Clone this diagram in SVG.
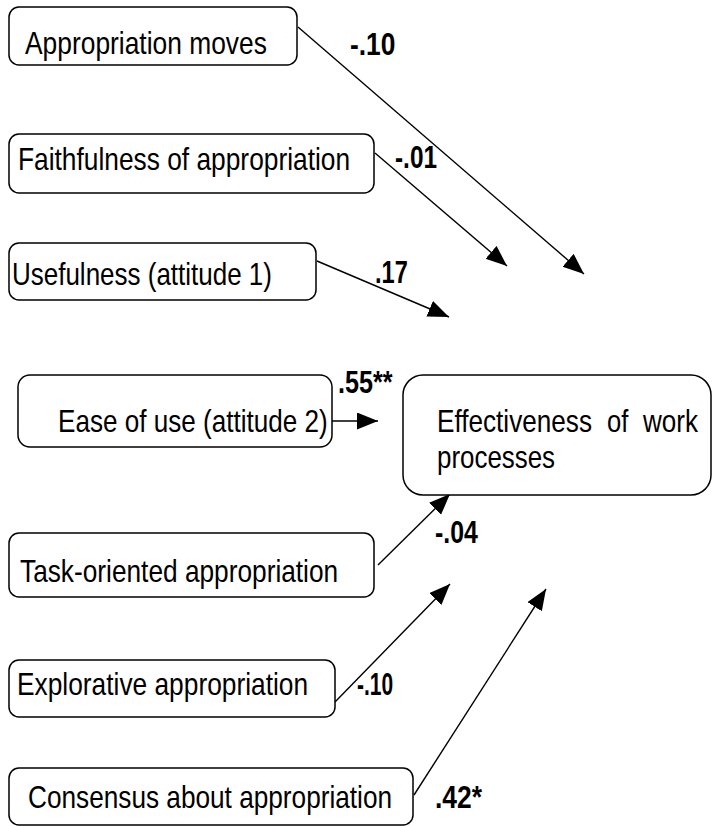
<svg xmlns="http://www.w3.org/2000/svg" width="713" height="826" viewBox="0 0 713 826">
  <style>
    .box { fill: #fff; stroke: #000; stroke-width: 1.5; }
    .lbl { font-family: "Liberation Sans", Arial, sans-serif; font-size: 32px; fill: #000; }
    .coef { font-family: "Liberation Sans", Arial, sans-serif; font-size: 31px; font-weight: bold; fill: #000; }
    .edge { stroke: #000; stroke-width: 1.4; fill: none; marker-end: url(#arrow); }
  </style>
  <defs>
    <marker id="arrow" markerUnits="userSpaceOnUse" markerWidth="23" markerHeight="19" refX="21" refY="8.5" orient="auto">
      <path d="M0,0 L21,8.5 L0,17 z" fill="#000"/>
    </marker>
  </defs>
  <rect width="713" height="826" fill="#fff"/>

  <g id="connectors">
    <line class="edge" x1="298" y1="27" x2="584" y2="274"/>
    <line class="edge" x1="375" y1="153" x2="507" y2="266"/>
    <line class="edge" x1="317" y1="261" x2="449" y2="317"/>
    <line class="edge" x1="332" y1="421" x2="378" y2="421"/>
    <line class="edge" x1="378" y1="565" x2="450" y2="494"/>
    <line class="edge" x1="335" y1="702" x2="450" y2="584"/>
    <line class="edge" x1="414" y1="795" x2="546" y2="589"/>
  </g>

  <!-- text is drawn at full size and narrowed horizontally to a condensed face -->
  <g id="node-appropriation-moves">
    <rect class="box" x="9" y="7" width="288" height="58" rx="10"/>
    <text class="lbl" transform="translate(25,54) scale(0.82,1)" textLength="295" lengthAdjust="spacingAndGlyphs">Appropriation moves</text>
  </g>
  <g id="node-faithfulness">
    <rect class="box" x="9" y="134" width="365" height="59" rx="10"/>
    <text class="lbl" transform="translate(18,170) scale(0.82,1)" textLength="405" lengthAdjust="spacingAndGlyphs">Faithfulness of appropriation</text>
  </g>
  <g id="node-usefulness">
    <rect class="box" x="9" y="243" width="307" height="57" rx="10"/>
    <text class="lbl" transform="translate(12,285) scale(0.82,1)" textLength="317" lengthAdjust="spacingAndGlyphs">Usefulness (attitude 1)</text>
  </g>
  <g id="node-ease-of-use">
    <rect class="box" x="18" y="375" width="314" height="72" rx="12"/>
    <text class="lbl" transform="translate(58,432) scale(0.82,1)" textLength="329" lengthAdjust="spacingAndGlyphs">Ease of use (attitude 2)</text>
  </g>
  <g id="node-effectiveness">
    <rect class="box" x="403" y="375" width="308" height="120" rx="20"/>
    <text class="lbl" transform="translate(437,432) scale(0.82,1)" textLength="189" lengthAdjust="spacingAndGlyphs">Effectiveness</text>
    <text class="lbl" transform="translate(607,432) scale(0.82,1)" textLength="26" lengthAdjust="spacingAndGlyphs">of</text>
    <text class="lbl" transform="translate(643,432) scale(0.82,1)" textLength="67" lengthAdjust="spacingAndGlyphs">work</text>
    <text class="lbl" transform="translate(437,468) scale(0.82,1)" textLength="144" lengthAdjust="spacingAndGlyphs">processes</text>
  </g>
  <g id="node-task-oriented">
    <rect class="box" x="9" y="533" width="365" height="64" rx="10"/>
    <text class="lbl" transform="translate(20,582) scale(0.82,1)" textLength="388" lengthAdjust="spacingAndGlyphs">Task-oriented appropriation</text>
  </g>
  <g id="node-explorative">
    <rect class="box" x="9" y="660" width="326" height="57" rx="10"/>
    <text class="lbl" transform="translate(17,695) scale(0.82,1)" textLength="355" lengthAdjust="spacingAndGlyphs">Explorative appropriation</text>
  </g>
  <g id="node-consensus">
    <rect class="box" x="9" y="768" width="404" height="57" rx="10"/>
    <text class="lbl" transform="translate(28,808) scale(0.82,1)" textLength="444" lengthAdjust="spacingAndGlyphs">Consensus about appropriation</text>
  </g>

  <g id="coefficients">
    <text class="coef" transform="translate(350,55) scale(0.84,1)" textLength="54" lengthAdjust="spacingAndGlyphs">-.10</text>
    <text class="coef" transform="translate(395,168) scale(0.84,1)" textLength="50" lengthAdjust="spacingAndGlyphs">-.01</text>
    <text class="coef" transform="translate(375,283) scale(0.84,1)" textLength="39" lengthAdjust="spacingAndGlyphs">.17</text>
    <text class="coef" transform="translate(338,393) scale(0.84,1)" textLength="65" lengthAdjust="spacingAndGlyphs">.55**</text>
    <text class="coef" transform="translate(435,543) scale(0.84,1)" textLength="51" lengthAdjust="spacingAndGlyphs">-.04</text>
    <text class="coef" transform="translate(357,695) scale(0.84,1)" textLength="43" lengthAdjust="spacingAndGlyphs">-.10</text>
    <text class="coef" transform="translate(435,808) scale(0.84,1)" textLength="56" lengthAdjust="spacingAndGlyphs">.42*</text>
  </g>
</svg>
